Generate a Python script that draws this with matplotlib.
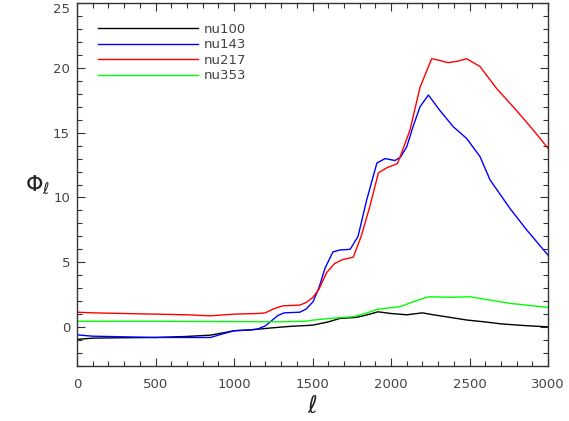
import matplotlib
matplotlib.use("Agg")
import matplotlib.pyplot as plt
from matplotlib.ticker import MultipleLocator

# values
ell_100 = [0, 100, 300, 500, 700, 850, 950, 1000, 1100, 1250, 1350, 1500, 1600,
           1675, 1780, 1850, 1917, 2000, 2100, 2200, 2270, 2350, 2480, 2600,
           2700, 2850, 3000]
phi_100 = [-0.95, -0.85, -0.82, -0.8, -0.72, -0.62, -0.4, -0.28, -0.22, -0.05,
           0.05, 0.15, 0.4, 0.67, 0.75, 0.95, 1.18, 1.05, 0.95, 1.1, 0.95, 0.8,
           0.55, 0.4, 0.25, 0.12, 0.02]

ell_143 = [0, 100, 300, 500, 700, 850, 920, 1000, 1100, 1150, 1200, 1230, 1280,
           1320, 1420, 1460, 1503, 1540, 1580, 1630, 1675, 1740, 1790, 1845,
           1910, 1962, 2025, 2060, 2100, 2140, 2185, 2238, 2312, 2397, 2482,
           2567, 2631, 2758, 2864, 3000]
phi_143 = [-0.6, -0.7, -0.75, -0.8, -0.8, -0.8, -0.55, -0.28, -0.22, -0.15, 0.1,
           0.4, 0.9, 1.1, 1.15, 1.4, 1.95, 3.0, 4.55, 5.8, 5.95, 6.0, 7.0, 9.8,
           12.65, 13.0, 12.85, 13.1, 13.9, 15.45, 17.0, 17.9, 16.7, 15.45,
           14.55, 13.15, 11.35, 9.15, 7.5, 5.55]

ell_217 = [0, 100, 300, 500, 700, 850, 1000, 1150, 1200, 1250, 1310, 1420, 1460,
           1503, 1540, 1590, 1640, 1690, 1760, 1810, 1865, 1920, 1975, 2040,
           2057, 2121, 2185, 2259, 2300, 2363, 2420, 2482, 2567, 2673, 2800,
           2906, 3000]
phi_217 = [1.15, 1.1, 1.05, 1.0, 0.95, 0.87, 1.0, 1.05, 1.1, 1.4, 1.64, 1.7, 1.9,
           2.3, 2.9, 4.2, 4.9, 5.2, 5.4, 7.0, 9.3, 11.9, 12.3, 12.6, 13.1, 15.2,
           18.5, 20.7, 20.6, 20.4, 20.5, 20.7, 20.1, 18.4, 16.7, 15.2, 13.8]

ell_353 = [0, 500, 1000, 1293, 1450, 1503, 1611, 1758, 1850, 1909, 2013, 2057,
           2140, 2227, 2248, 2380, 2503, 2758, 3000]
phi_353 = [0.45, 0.45, 0.42, 0.41, 0.45, 0.54, 0.67, 0.8, 1.1, 1.36, 1.52, 1.57,
           1.95, 2.3, 2.34, 2.3, 2.34, 1.83, 1.52]

series = [("nu100", ell_100, phi_100, "#000000"),
          ("nu143", ell_143, phi_143, "#0000ff"),
          ("nu217", ell_217, phi_217, "#ff0000"),
          ("nu353", ell_353, phi_353, "#00ff00")]

fig = plt.figure(figsize=(5.69, 4.21), dpi=100)
ax = fig.add_axes([77 / 569, 55 / 421, 471 / 569, 363 / 421])

for name, x, y, c in series:
    ax.plot(x, y, color=c, lw=1.0, label=name)

ax.set_xlim(0, 3000)
ax.set_ylim(-3, 25)
ax.xaxis.set_major_locator(MultipleLocator(500))
ax.xaxis.set_minor_locator(MultipleLocator(100))
ax.yaxis.set_major_locator(MultipleLocator(5))
ax.yaxis.set_minor_locator(MultipleLocator(1))

grey = "#444444"
for s in ax.spines.values():
    s.set_color("#333333")
    s.set_linewidth(1.0)
ax.tick_params(which="both", direction="in", top=True, right=True,
               colors="#333333", labelcolor=grey, labelsize=9.5)
ax.tick_params(which="major", length=6, width=0.8)
ax.tick_params(which="minor", length=3.5, width=0.8)
ax.tick_params(axis="x", which="major", pad=9)
ax.tick_params(axis="y", which="major", pad=5)

ax.set_xlabel(r"$\ell$", fontsize=17, color="#222222", labelpad=2)
ax.set_ylabel(r"$\Phi_\ell$", fontsize=16, color="#222222", rotation=0,
              labelpad=11, va="center")

leg = ax.legend(loc="upper left", bbox_to_anchor=(0.0446, 0.945),
                frameon=False, fontsize=9.5, handlelength=7.6,
                handletextpad=0.4, labelspacing=0.19, borderpad=0,
                borderaxespad=0)
for t in leg.get_texts():
    t.set_color(grey)

# keep the top y label inside the figure, as in the reference
fig.canvas.draw()
for loc, tick in zip(ax.yaxis.get_majorticklocs(), ax.yaxis.get_major_ticks()):
    if loc == 25:
        tick.label1.set_verticalalignment("top")

fig.savefig("out.png", dpi=100)
